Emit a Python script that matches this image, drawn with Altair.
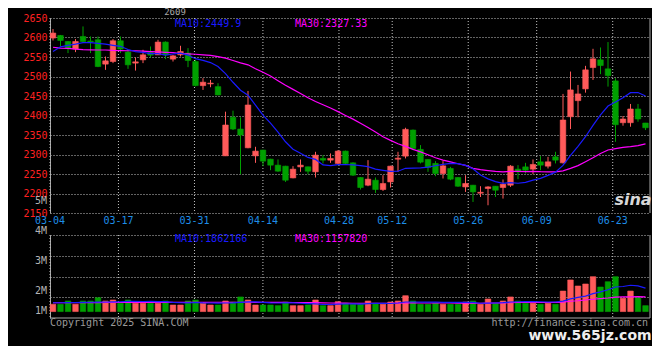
import altair as alt
import pandas as pd

# ---------------- data ----------------
OPEN = [2598.6, 2605.2, 2589.8, 2570.3, 2602.7, 2591.0, 2594.2, 2531.7, 2538.4, 2591.6,
        2562.6, 2534.3, 2542.7, 2561.5, 2555.6, 2588.3, 2544.5, 2555.6, 2560.0, 2538.4,
        2476.6, 2481.0, 2474.0, 2296.6, 2395.4, 2365.3, 2317.2, 2296.6, 2311.3, 2288.1,
        2272.7, 2270.1, 2240.0, 2268.3, 2268.3, 2255.5, 2290.0, 2285.5, 2277.1, 2308.7,
        2278.6, 2241.0, 2221.3, 2234.1, 2210.2, 2229.7, 2288.0, 2295.8, 2362.7, 2313.1,
        2287.3, 2277.1, 2251.3, 2264.2, 2241.0, 2216.9, 2221.3, 2200.7, 2212.8, 2218.7,
        2215.3, 2221.3, 2262.4, 2268.3, 2262.4, 2281.2, 2270.1, 2294.0, 2278.6, 2396.9,
        2438.1, 2468.2, 2522.9, 2542.7, 2519.6, 2488.7, 2381.5, 2381.5, 2416.7, 2380.7]

HIGH = [2621.7, 2606.5, 2590.5, 2596.0, 2628.4, 2602.7, 2602.7, 2551.2, 2596.0, 2602.7,
        2568.5, 2548.7, 2568.5, 2577.0, 2594.2, 2590.0, 2555.0, 2578.8, 2572.8, 2542.7,
        2495.7, 2491.3, 2482.8, 2409.8, 2412.4, 2395.4, 2463.0, 2319.8, 2312.0, 2289.0,
        2287.3, 2271.0, 2270.1, 2287.3, 2269.0, 2306.9, 2298.4, 2302.8, 2311.3, 2310.0,
        2280.0, 2242.0, 2285.5, 2241.0, 2246.9, 2271.0, 2306.9, 2368.6, 2364.0, 2324.1,
        2288.0, 2283.0, 2283.0, 2268.3, 2242.0, 2246.9, 2222.0, 2218.7, 2218.7, 2219.0,
        2235.9, 2272.7, 2272.7, 2278.6, 2287.3, 2295.8, 2294.0, 2306.9, 2455.3, 2512.7,
        2478.4, 2527.3, 2571.0, 2574.4, 2588.3, 2495.7, 2398.7, 2429.6, 2429.6, 2381.0]

LOW = [2592.4, 2577.0, 2560.0, 2562.5, 2585.7, 2560.0, 2524.0, 2517.0, 2534.3, 2560.0,
       2519.6, 2515.2, 2534.3, 2548.7, 2555.0, 2544.5, 2538.4, 2551.2, 2524.0, 2474.6,
       2465.6, 2472.5, 2452.0, 2296.0, 2362.7, 2249.5, 2316.0, 2278.6, 2270.0, 2259.8,
       2255.5, 2229.7, 2239.0, 2255.5, 2249.5, 2241.0, 2277.0, 2278.6, 2276.0, 2275.0,
       2245.0, 2210.2, 2218.7, 2201.4, 2206.6, 2215.3, 2255.5, 2289.9, 2311.3, 2277.1,
       2255.5, 2244.4, 2238.5, 2234.1, 2217.0, 2204.0, 2178.3, 2191.0, 2169.8, 2191.0,
       2187.0, 2216.9, 2236.7, 2251.3, 2249.5, 2259.8, 2264.2, 2277.1, 2277.1, 2365.3,
       2395.4, 2458.6, 2491.3, 2506.0, 2474.1, 2332.6, 2373.8, 2371.2, 2384.0, 2362.7]

CLOSE = [2611.4, 2592.4, 2572.8, 2589.8, 2589.8, 2589.0, 2525.5, 2540.2, 2591.6, 2570.3,
         2529.9, 2537.6, 2555.6, 2554.8, 2588.3, 2555.6, 2553.0, 2564.1, 2541.0, 2476.6,
         2485.4, 2483.0, 2452.7, 2375.6, 2365.3, 2349.9, 2427.0, 2308.7, 2283.0, 2272.7,
         2257.3, 2234.1, 2262.4, 2272.7, 2257.3, 2298.4, 2285.5, 2290.0, 2308.7, 2277.1,
         2247.0, 2215.3, 2236.7, 2210.2, 2225.6, 2270.1, 2290.5, 2364.5, 2315.6, 2280.4,
         2266.8, 2251.3, 2270.9, 2236.7, 2218.7, 2225.6, 2204.0, 2203.2, 2216.9, 2208.4,
         2223.8, 2270.1, 2255.5, 2259.8, 2274.5, 2272.7, 2281.2, 2285.5, 2388.4, 2465.6,
         2455.3, 2517.0, 2545.3, 2528.1, 2502.4, 2376.3, 2391.0, 2416.7, 2391.0, 2368.6]

# volume, millions
VOLUME = [0.58, 0.58, 0.84, 0.58, 0.84, 0.84, 1.10, 0.84, 0.92, 0.66,
          0.92, 0.66, 0.66, 0.66, 0.66, 0.84, 0.52, 0.52, 0.84, 0.92,
          0.66, 0.52, 0.52, 0.84, 0.76, 1.16, 0.92, 0.52, 0.52, 0.52,
          0.47, 0.76, 0.47, 0.47, 0.52, 0.92, 0.47, 0.47, 0.79, 0.66,
          0.58, 0.58, 0.84, 0.66, 0.58, 0.76, 0.84, 1.26, 0.84, 0.58,
          0.58, 0.66, 0.58, 0.58, 0.58, 0.76, 0.84, 0.58, 1.00, 0.66,
          0.84, 1.16, 0.84, 0.66, 0.66, 0.58, 0.66, 0.58, 1.63, 2.51,
          2.03, 2.19, 2.77, 1.95, 2.37, 2.77, 1.06, 1.63, 1.10, 0.47]

MA10 = [2564, 2576, 2580, 2583, 2587, 2587, 2585, 2583, 2580, 2577.4,
        2569.2, 2563.8, 2562.0, 2558.5, 2558.4, 2554.9, 2557.7, 2560.1, 2555.0, 2545.7,
        2541.2, 2535.7, 2525.5, 2507.5, 2485.2, 2464.7, 2452.1, 2426.5, 2400.7, 2380.3,
        2357.5, 2332.6, 2313.6, 2303.3, 2292.5, 2287.4, 2273.2, 2271.3, 2273.9, 2274.4,
        2273.3, 2271.4, 2268.9, 2262.6, 2259.5, 2256.6, 2257.1, 2264.6, 2265.3, 2265.6,
        2267.6, 2271.2, 2274.6, 2277.2, 2276.6, 2272.1, 2263.5, 2247.3, 2237.5, 2230.3,
        2226.0, 2227.8, 2226.3, 2228.6, 2234.2, 2238.9, 2246.6, 2254.8, 2272.0, 2297.7,
        2320.9, 2345.6, 2374.5, 2401.4, 2424.2, 2434.5, 2445.5, 2458.6, 2458.9, 2449.9]

MA30 = [2575, 2573, 2572, 2570, 2569, 2568.5, 2568, 2568, 2567, 2566.5,
        2566, 2566, 2565, 2564, 2563, 2562, 2561, 2559, 2558, 2557,
        2555.5, 2554, 2551, 2547, 2541, 2535, 2530, 2520, 2511, 2501.1,
        2489.3, 2477.4, 2467.0, 2456.5, 2445.4, 2435.7, 2427.7, 2419.3, 2409.9, 2400.1,
        2390.7, 2379.9, 2369.3, 2357.8, 2345.7, 2336.2, 2327.5, 2320.8, 2313.3, 2306.8,
        2299.5, 2291.7, 2285.7, 2281.1, 2276.2, 2272.0, 2264.6, 2261.1, 2258.9, 2256.7,
        2255.6, 2256.8, 2256.6, 2256.2, 2256.7, 2255.9, 2255.7, 2255.6, 2258.2, 2264.5,
        2271.5, 2281.5, 2291.8, 2302.4, 2311.6, 2315.2, 2318.5, 2320.3, 2322.8, 2327.3]

VMA10 = [0.70, 0.70, 0.71, 0.72, 0.73, 0.74, 0.75, 0.76, 0.77, 0.78,
         0.81, 0.82, 0.80, 0.81, 0.79, 0.79, 0.73, 0.70, 0.69, 0.72,
         0.69, 0.68, 0.67, 0.68, 0.69, 0.73, 0.77, 0.77, 0.73, 0.69,
         0.68, 0.70, 0.69, 0.66, 0.63, 0.61, 0.56, 0.56, 0.59, 0.60,
         0.61, 0.59, 0.63, 0.65, 0.66, 0.64, 0.68, 0.76, 0.76, 0.75,
         0.75, 0.76, 0.73, 0.73, 0.73, 0.73, 0.73, 0.66, 0.67, 0.68,
         0.71, 0.76, 0.78, 0.79, 0.80, 0.78, 0.76, 0.76, 0.83, 1.01,
         1.13, 1.23, 1.43, 1.56, 1.73, 1.95, 1.99, 2.09, 2.04, 1.86]

VMA30 = [0.70, 0.70, 0.70, 0.71, 0.71, 0.71, 0.71, 0.72, 0.72, 0.72,
         0.72, 0.73, 0.73, 0.73, 0.73, 0.73, 0.73, 0.73, 0.73, 0.73,
         0.73, 0.74, 0.74, 0.74, 0.74, 0.74, 0.74, 0.73, 0.73, 0.73,
         0.73, 0.73, 0.72, 0.72, 0.71, 0.71, 0.69, 0.68, 0.67, 0.67,
         0.66, 0.66, 0.66, 0.66, 0.66, 0.66, 0.67, 0.69, 0.69, 0.68,
         0.68, 0.68, 0.69, 0.68, 0.67, 0.66, 0.66, 0.66, 0.67, 0.68,
         0.69, 0.70, 0.72, 0.72, 0.73, 0.72, 0.72, 0.73, 0.75, 0.82,
         0.86, 0.92, 0.98, 1.03, 1.08, 1.15, 1.16, 1.17, 1.18, 1.16]

TICK_DATES = ["03-04", "03-17", "03-31", "04-14", "04-28", "05-12", "05-26", "06-09", "06-23"]
TICK_INDEX = [0, 9, 19, 28, 38, 45, 55, 64, 74]
PRICE_TICKS = [2150, 2200, 2250, 2300, 2350, 2400, 2450, 2500, 2550, 2600, 2650]
VOL_LABELS = ["5M", "4M", "3M", "2M", "1M"]

TITLE = "2609"
PRICE_MA10_TXT = "MA10:2449.9"
PRICE_MA30_TXT = "MA30:2327.33"
VOL_MA10_TXT = "MA10:1862166"
VOL_MA30_TXT = "MA30:1157820"

# ---------------- styling / layout ----------------
RED = "#ff5a5a"
GREEN = "#00a000"
BLUE = "#1a1aff"
MAGENTA = "#ff00ff"
GRID = "#c4c4c4"
FRAME = "#a8a8a8"
AXIS_RED = "#ff2020"
DATE_BLUE = "#1e8ee8"
GREY = "#b4b4b4"
MONO = "DejaVu Sans Mono"

W, H = 600, 300
PRICE_H = 195
VOL_TOP, VOL_BOT = 217, 300
VOL_DOMAIN = [-0.51, 6.08]
VOL_GRID = [VOL_DOMAIN[0] + k * (VOL_DOMAIN[1] - VOL_DOMAIN[0]) / 4 for k in range(1, 5)]

N = len(CLOSE)
df = pd.DataFrame({
    "i": list(range(N)), "open": OPEN, "high": HIGH, "low": LOW, "close": CLOSE,
    "vol": VOLUME, "ma10": MA10, "ma30": MA30, "vma10": VMA10, "vma30": VMA30,
})
ticks = pd.DataFrame({"label": TICK_DATES, "idx": TICK_INDEX})
one = pd.DataFrame({"k": [0]})

xs = alt.Scale(domain=[-0.4, N - 0.4], nice=False, zero=False)
ps = alt.Scale(domain=[2150, 2650], range=[PRICE_H, 0], nice=False, zero=False)
vs = alt.Scale(domain=VOL_DOMAIN, range=[VOL_BOT, VOL_TOP], nice=False, zero=False)

price_axis = alt.Axis(values=PRICE_TICKS, orient="left", title=None, ticks=False, format="d",
                      labelPadding=3, labelColor=AXIS_RED, labelFont=MONO, labelFontSize=10,
                      labelFlush=False, labelOverlap=False, grid=True, gridColor=GRID,
                      gridDash=[1, 2], domain=True, domainColor=FRAME)
vol_axis = alt.Axis(values=VOL_GRID, orient="left", title=None, ticks=False, labels=False,
                    grid=True, gridColor=GRID, gridDash=[1, 2], domain=True, domainColor=FRAME)


def X(f):
    return alt.X(f, scale=xs, axis=None)


up = "datum.close >= datum.open"
col = alt.condition(up, alt.value(RED), alt.value(GREEN))

base = alt.Chart(df).transform_calculate(
    x0="datum.i - 0.37", x1="datum.i + 0.37",
    blo="min(datum.open, datum.close)", bhi="max(datum.open, datum.close)", zero="0")

tick_base = alt.Chart(ticks).transform_calculate(pos="datum.idx * 1.0139 - 0.4")

# price panel
vgrid_p = tick_base.mark_rule(color=GRID, strokeDash=[1, 2]).encode(
    x=X("pos:Q"), y=alt.value(0), y2=alt.value(PRICE_H))
wick = base.mark_rule(strokeWidth=1).encode(
    x=X("i:Q"), y=alt.Y("low:Q", scale=ps, axis=price_axis), y2="high:Q", color=col)
body = base.mark_rect(strokeWidth=0.6).encode(
    x=X("x0:Q"), x2="x1:Q", y=alt.Y("blo:Q", scale=ps, axis=price_axis), y2="bhi:Q",
    color=col, stroke=col)
ma30 = base.mark_line(color=MAGENTA, strokeWidth=1.2).encode(
    x=X("i:Q"), y=alt.Y("ma30:Q", scale=ps, axis=price_axis))
ma10 = base.mark_line(color=BLUE, strokeWidth=1.2).encode(
    x=X("i:Q"), y=alt.Y("ma10:Q", scale=ps, axis=price_axis))
price = alt.layer(vgrid_p, wick, body, ma30, ma10)

# volume panel
vgrid_v = tick_base.mark_rule(color=GRID, strokeDash=[1, 2]).encode(
    x=X("pos:Q"), y=alt.value(VOL_TOP), y2=alt.value(VOL_BOT))
vbar = base.mark_rect(strokeWidth=0.6).encode(
    x=X("x0:Q"), x2="x1:Q", y=alt.Y("vol:Q", scale=vs, axis=vol_axis), y2="zero:Q",
    color=col, stroke=col)
vma30 = base.mark_line(color=MAGENTA, strokeWidth=1.2).encode(
    x=X("i:Q"), y=alt.Y("vma30:Q", scale=vs, axis=vol_axis))
vma10 = base.mark_line(color=BLUE, strokeWidth=1.2).encode(
    x=X("i:Q"), y=alt.Y("vma10:Q", scale=vs, axis=vol_axis))
vol = alt.layer(vgrid_v, vbar, vma30, vma10)

# frame lines
frames = [
    alt.Chart(one).mark_rule(color=FRAME).encode(x=alt.value(W), y=alt.value(0), y2=alt.value(PRICE_H)),
    alt.Chart(one).mark_rule(color=FRAME).encode(x=alt.value(W), y=alt.value(VOL_TOP), y2=alt.value(VOL_BOT)),
    alt.Chart(one).mark_rule(color=FRAME).encode(x=alt.value(0), x2=alt.value(W), y=alt.value(VOL_BOT)),
]


def txt(text, x, y, color, align="left", size=10, font=MONO, weight="normal", style="normal"):
    return alt.Chart(one).mark_text(text=text, align=align, baseline="middle", color=color,
                                    font=font, fontSize=size, fontWeight=weight,
                                    fontStyle=style).encode(x=alt.value(x), y=alt.value(y))


texts = [
    txt(TITLE, 125, -6, "#a8a8a8", align="center", size=9),
    txt(PRICE_MA10_TXT, 125, 6, BLUE),
    txt(PRICE_MA30_TXT, 245, 6, MAGENTA),
    txt(VOL_MA10_TXT, 125, 220.5, BLUE),
    txt(VOL_MA30_TXT, 245, 220.5, MAGENTA),
    txt("Copyright 2025 SINA.COM", 0, 305, "#9a9a9a"),
    txt("http://finance.sina.com.cn", 598, 305, "#9a9a9a", align="right"),
    txt("sina", 583, 182, "#d8d8d8", align="center", size=16, font="DejaVu Sans",
        weight="bold", style="italic"),
    txt("www.565jz.com", 540, 318, "#eeeeee", align="center", size=14, font="DejaVu Sans",
        weight="bold"),
]
for lab, yy in zip(VOL_LABELS, [183, 213, 243, 273, 293]):
    texts.append(txt(lab, -3, yy, GREY, align="right"))

date_labels = tick_base.mark_text(color=DATE_BLUE, font=MONO, fontSize=10, baseline="middle").encode(
    x=X("pos:Q"), y=alt.value(203), text="label:N")

chart = alt.layer(price, vol, *frames, date_labels, *texts).resolve_scale(
    y="independent"
).properties(
    width=W, height=H,
    autosize=alt.AutoSizeParams(type="none"),
    padding={"left": 42, "top": 10, "right": 2, "bottom": 28},
    background="black",
).configure_view(stroke=None)

chart.save("out.html", embed_options={"renderer": "svg", "actions": False})
